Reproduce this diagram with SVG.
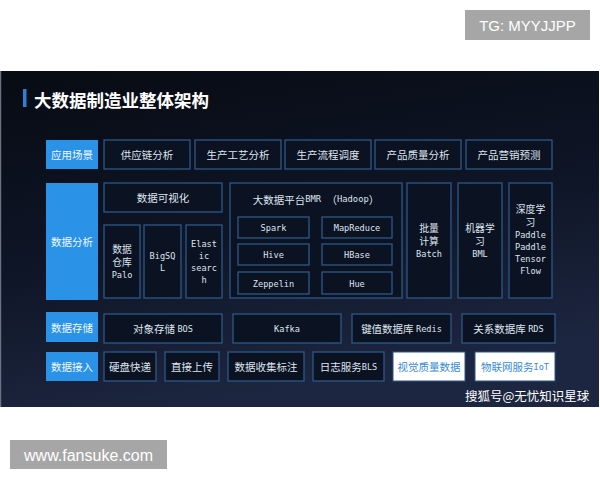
<svg xmlns="http://www.w3.org/2000/svg" width="600" height="480" viewBox="0 0 600 480">
<defs>
<linearGradient id="bg" x1="0" y1="0" x2="0.3" y2="1">
<stop offset="0" stop-color="#070b13"/>
<stop offset="0.55" stop-color="#0e1526"/>
<stop offset="1" stop-color="#1d2640"/>
</linearGradient>
<style>
.cat{fill:#2a93e8}
.cat-t{fill:#f2f7fd;font-family:"Noto Sans CJK SC",sans-serif;font-size:10.5px;text-anchor:middle;dominant-baseline:central}
.box{fill:#0b1222;stroke:#2d5888;stroke-width:1.3}
.wbox{fill:#ffffff;stroke:#2d5888;stroke-width:1}
.t{fill:#dfe5ee;font-family:"Noto Sans CJK SC",sans-serif;font-size:10.5px;text-anchor:middle;dominant-baseline:central}
.s{fill:#dfe5ee;font-family:"Noto Sans CJK SC",sans-serif;font-size:9.8px;text-anchor:middle;dominant-baseline:central}
.m{fill:#dfe5ee;font-family:"DejaVu Sans Mono","Noto Sans CJK SC",monospace;font-size:8.6px;text-anchor:middle;dominant-baseline:central}
.wt{fill:#3a8bd0;font-family:"Noto Sans CJK SC",sans-serif;font-size:10.5px;text-anchor:middle;dominant-baseline:central}
.wm{fill:#3a8bd0;font-family:"DejaVu Sans Mono",monospace;font-size:8.6px}
</style>
</defs>
<rect width="600" height="480" fill="#ffffff"/>
<g id="tg">
<rect x="465" y="10" width="125" height="30" fill="#a6a6a6"/>
<text x="527.5" y="25.5" fill="#ffffff" font-family="Liberation Sans,Arial,sans-serif" font-size="15" text-anchor="middle" dominant-baseline="central">TG: MYYJJPP</text>
</g>
<g id="panel">
<rect x="0" y="71" width="599" height="336" fill="url(#bg)"/>
<rect x="0" y="71" width="1.2" height="336" fill="#6a7384"/>
<rect x="23" y="89" width="3.5" height="18" fill="#2f7fd6"/>
<text x="34" y="99" fill="#ffffff" font-family="Noto Sans CJK SC,sans-serif" font-size="17.5" font-weight="bold" dominant-baseline="central">大数据制造业整体架构</text>
</g>
<g id="cat-app"><rect class="cat" x="46" y="140" width="52" height="29"/><text class="cat-t" x="72" y="154.5">应用场景</text></g>
<g id="cat-analysis"><rect class="cat" x="46" y="183" width="52" height="117"/><text class="cat-t" x="72" y="241.5">数据分析</text></g>
<g id="cat-storage"><rect class="cat" x="46" y="312" width="52" height="30"/><text class="cat-t" x="72" y="327">数据存储</text></g>
<g id="cat-ingest"><rect class="cat" x="46" y="352" width="52" height="29"/><text class="cat-t" x="72" y="366.5">数据接入</text></g>

<g id="app1"><rect class="box" x="104" y="140" width="86" height="29"/><text class="t" x="147" y="154.5">供应链分析</text></g>
<g id="app2"><rect class="box" x="195" y="140" width="86" height="29"/><text class="t" x="238" y="154.5">生产工艺分析</text></g>
<g id="app3"><rect class="box" x="285" y="140" width="86" height="29"/><text class="t" x="328" y="154.5">生产流程调度</text></g>
<g id="app4"><rect class="box" x="375" y="140" width="86" height="29"/><text class="t" x="418" y="154.5">产品质量分析</text></g>
<g id="app5"><rect class="box" x="466" y="140" width="86" height="29"/><text class="t" x="509" y="154.5">产品营销预测</text></g>

<g id="viz"><rect class="box" x="104" y="183" width="118" height="29"/><text class="t" x="163" y="197.5">数据可视化</text></g>
<g id="palo"><rect class="box" x="104" y="225" width="36" height="73"/><text class="s" x="122" y="248.5">数据</text><text class="s" x="122" y="261.5">仓库</text><text class="m" x="122" y="274.5">Palo</text></g>
<g id="bigsql"><rect class="box" x="144" y="225" width="37" height="73"/><text class="m" x="162.5" y="256">BigSQ</text><text class="m" x="162.5" y="267.5">L</text></g>
<g id="es"><rect class="box" x="186" y="225" width="36" height="73"/><text class="m" x="204" y="244">Elast</text><text class="m" x="204" y="256">ic</text><text class="m" x="204" y="268">searc</text><text class="m" x="204" y="280">h</text></g>
<g id="bmr"><rect class="box" x="230" y="183" width="172" height="115"/><text class="t" x="316" y="199" font-size="9.8">大数据平台<tspan font-family="DejaVu Sans Mono,monospace" font-size="8.8">BMR </tspan>（<tspan font-family="DejaVu Sans Mono,monospace" font-size="8.8">Hadoop</tspan>）</text></g>
<g id="spark"><rect class="box" x="238" y="217" width="71" height="21"/><text class="m" x="273.5" y="228">Spark</text></g>
<g id="mapreduce"><rect class="box" x="322" y="217" width="70" height="21"/><text class="m" x="357" y="228">MapReduce</text></g>
<g id="hive"><rect class="box" x="238" y="244" width="71" height="21"/><text class="m" x="273.5" y="255">Hive</text></g>
<g id="hbase"><rect class="box" x="322" y="244" width="70" height="21"/><text class="m" x="357" y="255">HBase</text></g>
<g id="zeppelin"><rect class="box" x="238" y="272" width="71" height="22"/><text class="m" x="273.5" y="283.5">Zeppelin</text></g>
<g id="hue"><rect class="box" x="322" y="272" width="70" height="22"/><text class="m" x="357" y="283.5">Hue</text></g>
<g id="batch"><rect class="box" x="407" y="183" width="44" height="115"/><text class="s" x="429" y="228">批量</text><text class="s" x="429" y="241">计算</text><text class="m" x="429" y="253.5">Batch</text></g>
<g id="bml"><rect class="box" x="458" y="183" width="44" height="115"/><text class="s" x="480" y="228">机器学</text><text class="s" x="480" y="241">习</text><text class="m" x="480" y="253.5">BML</text></g>
<g id="dl"><rect class="box" x="509" y="183" width="43" height="115"/><text class="s" x="530.5" y="209">深度学</text><text class="s" x="530.5" y="222">习</text><text class="m" x="530.5" y="235">Paddle</text><text class="m" x="530.5" y="247">Paddle</text><text class="m" x="530.5" y="259">Tensor</text><text class="m" x="530.5" y="271">Flow</text></g>

<g id="bos"><rect class="box" x="104" y="314" width="118" height="29"/><text class="t" x="163" y="328.5">对象存储 <tspan font-family="DejaVu Sans Mono,monospace" font-size="8.6">BOS</tspan></text></g>
<g id="kafka"><rect class="box" x="233" y="314" width="108" height="29"/><text class="m" x="287" y="328.5">Kafka</text></g>
<g id="redis"><rect class="box" x="352" y="314" width="99" height="29"/><text class="t" x="401.5" y="328.5">键值数据库 <tspan font-family="DejaVu Sans Mono,monospace" font-size="8.6">Redis</tspan></text></g>
<g id="rds"><rect class="box" x="462" y="314" width="93" height="29"/><text class="t" x="508.5" y="328.5">关系数据库 <tspan font-family="DejaVu Sans Mono,monospace" font-size="8.6">RDS</tspan></text></g>

<g id="disk"><rect class="box" x="104" y="352" width="52" height="29"/><text class="t" x="130" y="366.5">硬盘快递</text></g>
<g id="upload"><rect class="box" x="165" y="352" width="54" height="29"/><text class="t" x="192" y="366.5">直接上传</text></g>
<g id="collect"><rect class="box" x="228" y="352" width="76" height="29"/><text class="t" x="266" y="366.5">数据收集标注</text></g>
<g id="bls"><rect class="box" x="313" y="352" width="71" height="29"/><text class="t" x="348.5" y="366.5">日志服务<tspan font-family="DejaVu Sans Mono,monospace" font-size="8.6">BLS</tspan></text></g>
<g id="visual"><rect class="wbox" x="393" y="352" width="72" height="29"/><text class="wt" x="429" y="366.5">视觉质量数据</text></g>
<g id="iot"><rect class="wbox" x="475" y="352" width="80" height="29"/><text class="wt" x="515" y="366.5">物联网服务<tspan class="wm">IoT</tspan></text></g>

<g id="connectors"></g>

<text x="465" y="395" fill="#ffffff" font-family="Noto Sans CJK SC,sans-serif" font-size="12.5" dominant-baseline="central">搜狐号@无忧知识星球</text>
<g id="site">
<rect x="10" y="440" width="157" height="29" fill="#a6a6a6"/>
<text x="88.5" y="455" fill="#ffffff" font-family="Liberation Sans,Arial,sans-serif" font-size="16" text-anchor="middle" dominant-baseline="central">www.fansuke.com</text>
</g>
</svg>
